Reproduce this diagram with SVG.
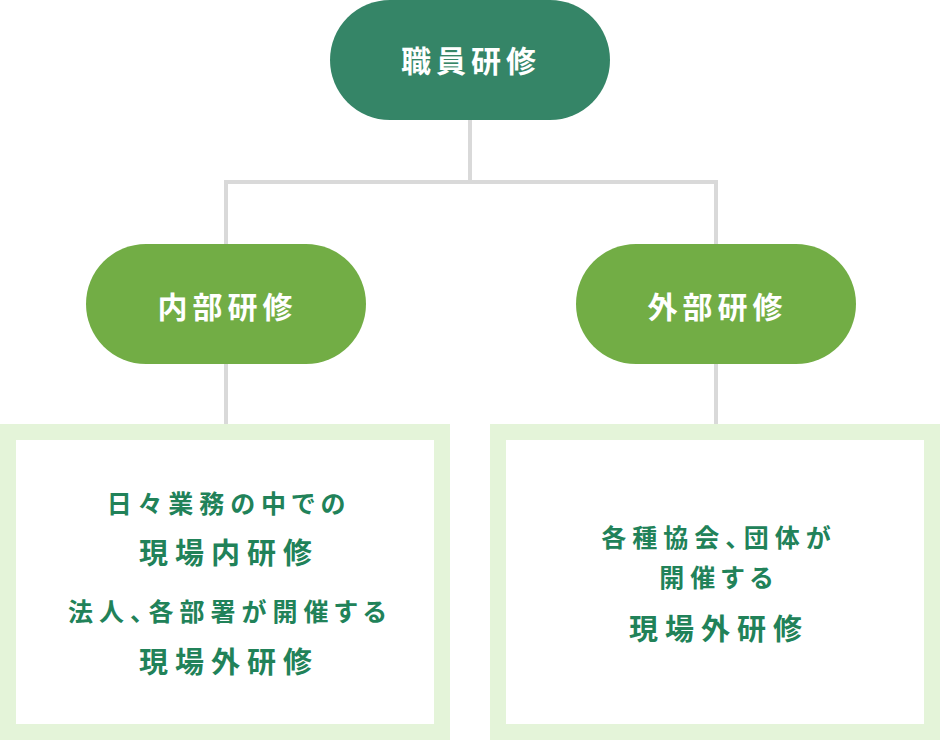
<svg xmlns="http://www.w3.org/2000/svg" width="940" height="740" viewBox="0 0 940 740">
<style>
.t{font-family:"Noto Sans CJK JP","Noto Sans",sans-serif;font-weight:700;text-anchor:middle;dominant-baseline:central;font-feature-settings:"palt"}
.h{fill:#ffffff;font-size:30px;letter-spacing:5px}
.s{fill:#218259;font-size:25px;letter-spacing:6px}
.b{fill:#218259;font-size:29px;letter-spacing:7px}
.ln{stroke:#d9d9d9;stroke-width:4;fill:none}
.box{fill:#ffffff;stroke:#e4f4d9;stroke-width:16}
</style>
<rect width="940" height="740" fill="#ffffff"/>
<g id="connectors">
<path class="ln" d="M470 120V182M226 244V182H716V244"/>
<path class="ln" d="M226 364V424"/>
<path class="ln" d="M716 364V424"/>
</g>
<g id="node-top">
<rect x="330" y="0" width="280" height="120" rx="60" fill="#358567"/>
<text class="t h" x="471" y="59">職員研修</text>
</g>
<g id="node-internal">
<rect x="86" y="244" width="280" height="120" rx="60" fill="#72ad45"/>
<text class="t h" x="227.5" y="305">内部研修</text>
</g>
<g id="node-external">
<rect x="576" y="244" width="280" height="120" rx="60" fill="#72ad45"/>
<text class="t h" x="717.5" y="305">外部研修</text>
</g>
<g id="box-internal">
<rect class="box" x="8" y="432" width="434" height="300"/>
<text class="t s" x="229" y="502">日々業務の中での</text>
<text class="t b" x="229" y="551">現場内研修</text>
<text class="t s" x="230" y="610">法人、各部署が開催する</text>
<text class="t b" x="229" y="660">現場外研修</text>
</g>
<g id="box-external">
<rect class="box" x="498" y="432" width="434" height="300"/>
<text class="t s" x="719" y="536">各種協会、団体が</text>
<text class="t s" x="719" y="576">開催する</text>
<text class="t b" x="719" y="627">現場外研修</text>
</g>
</svg>
